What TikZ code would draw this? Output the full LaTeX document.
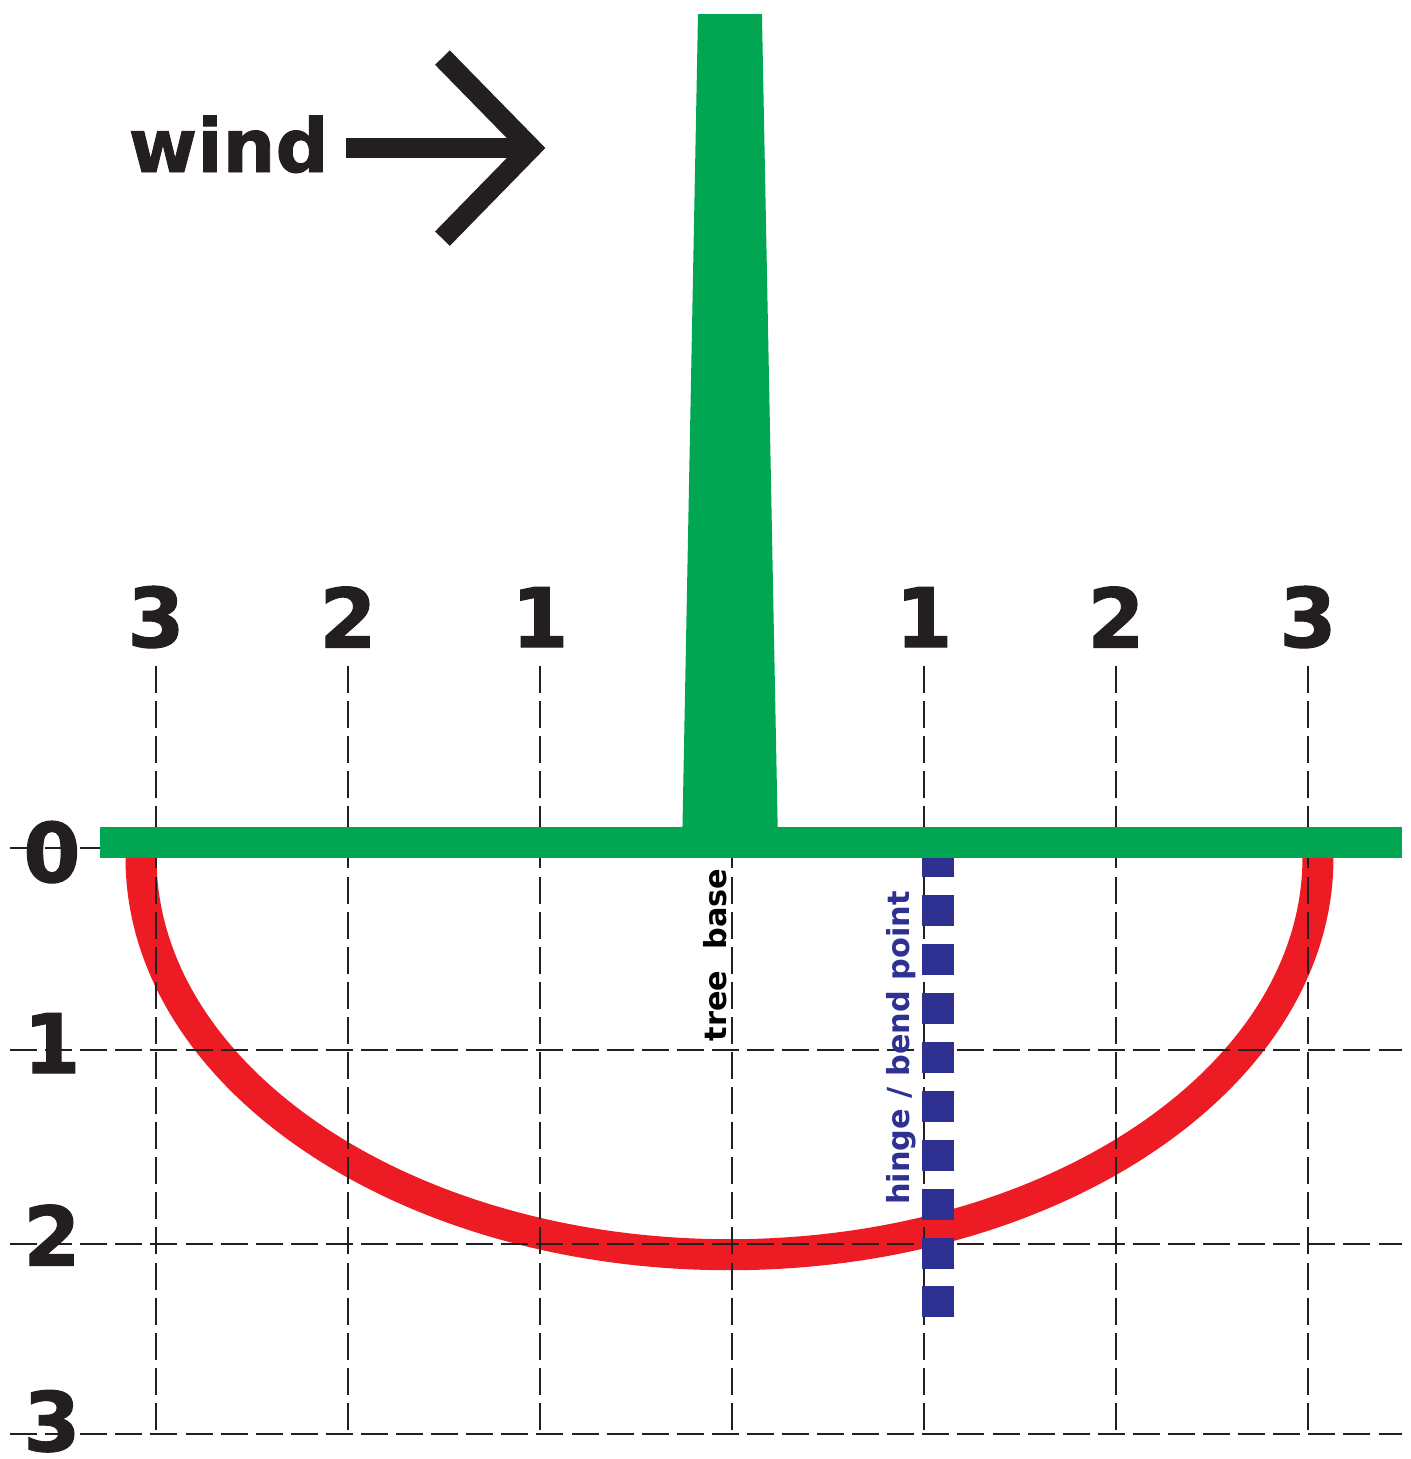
\documentclass[tikz,border=0pt]{standalone}
\usepackage{fontspec}
\newfontfamily\dvsans{DejaVu Sans}
\newfontfamily\dvheavy{DejaVu Sans}[BoldFeatures={FakeBold=1.2}]
\usetikzlibrary{positioning}
\definecolor{cTree}{HTML}{00A651}
\definecolor{cRoot}{HTML}{ED1C24}
\definecolor{cHinge}{HTML}{2E3192}
\definecolor{cInk}{HTML}{231F20}
\tikzset{
  gridline/.style ={cInk,line width=0.75pt,dash pattern=on 8pt off 2.4pt},
  rootline/.style ={cRoot,line width=9.2pt},
  hingeline/.style={cHinge,line width=9.5pt,dash pattern=on 9.2pt off 5.3pt},
  axislbl/.style  ={font=\dvheavy\bfseries\fontsize{24.4}{28}\selectfont,text=cInk,inner sep=0pt},
  sidelbl/.style  ={font=\dvsans\bfseries\fontsize{9}{10}\selectfont,rotate=90,anchor=base,inner sep=0pt},
  windlbl/.style  ={font=\dvheavy\bfseries\fontsize{22}{26}\selectfont,text=cInk,inner sep=0pt},
  windshaft/.style={cInk,line width=6.1pt},
  windhead/.style ={windshaft,line join=miter},
}
\begin{document}
\begin{tikzpicture}[x=2cm,y=2cm]
\useasboundingbox (-3.8125,-3.182) rectangle (3.536,4.417);
% root plate
\draw[rootline] (-3.078,0.05) -- (-3.078,-0.05)
  arc[start angle=180,end angle=360,x radius=3.065,y radius=2.068] -- (3.052,0.05);
% grid
\foreach \x in {-3,...,3}
  \draw[gridline] (\x,0.948) -- (\x,-3.052);
\draw[gridline] (-3.760,0) -- (3.479,0);
\foreach \y in {1.052,2.063,3.052}
  \draw[gridline] (-3.760,-\y) -- (3.490,-\y);
% hinge
\draw[hingeline] (1.073,0.01) -- (1.073,-2.448);
% tree and ground
\fill[cTree] (-0.260,0) -- (-0.177,4.344) -- (0.156,4.344) -- (0.240,0) -- cycle;
\fill[cTree] (-3.292,-0.052) rectangle (3.490,0.109);
% labels
\foreach \i in {1,2,3} {
  \node[axislbl] (lt\i) at (-\i,1.203) {\i};
  \node[axislbl] (rt\i) at (\i,1.203) {\i};
}
\foreach \i/\y in {0/-0.021,1/-1.016,2/-2.016,3/-2.985}
  \node[axislbl] (dp\i) at (-3.542,\y) {\i};
\node[sidelbl] (treebase) at (-0.031,-0.557) {tree\ \ base};
\node[sidelbl,text=cHinge] (hinge) at (0.927,-1.042) {hinge / bend point};
% wind
\node[windlbl,anchor=base west] (wind) at (-3.146,3.521) {wind};
\coordinate (windtail) at (-2.010,3.646);
\coordinate (windtip) at (-1.047,3.646);
\coordinate (barbup) at (-1.508,4.117);
\coordinate (barbdn) at (-1.508,3.174);
\draw[windshaft] (windtail) -- (windtip);
\draw[windhead] (barbup) -- (windtip) -- (barbdn);
\end{tikzpicture}
\end{document}
